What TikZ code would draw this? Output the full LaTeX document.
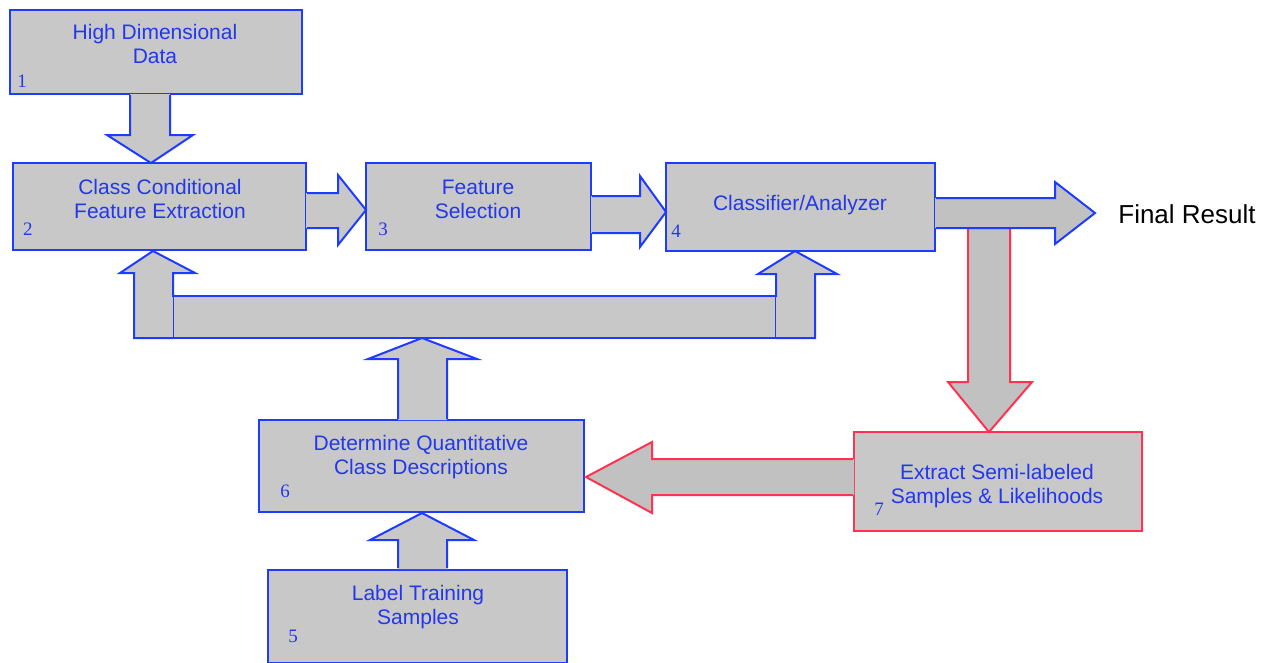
\documentclass[tikz,border=0pt]{standalone}
\usepackage{fontspec}
\setmainfont{Liberation Sans}
\newfontfamily\numfont{Liberation Serif}
\definecolor{bblue}{RGB}{30,60,255}
\definecolor{tblue}{RGB}{35,55,235}
\definecolor{rred}{RGB}{255,50,80}
\definecolor{boxgray}{RGB}{200,200,200}
\definecolor{arrgray}{RGB}{192,193,192}
\begin{document}
\begin{tikzpicture}[x=1pt,y=-1pt,
  blk/.style={draw=bblue,line width=2pt,fill=boxgray,minimum width=#1,inner sep=0pt},
  txt/.style={text=tblue,font=\fontsize{21}{24}\selectfont,align=center,inner sep=0pt},
  num/.style={text=tblue,font=\numfont\fontsize{19}{22}\selectfont,inner sep=0pt},
  bline/.style={draw=bblue,line width=2pt,line join=miter},
  rline/.style={draw=rred,line width=2pt,line join=miter}]
\useasboundingbox (0,0) rectangle (1265,662);
% boxes
\node[blk=292pt,minimum height=84pt] (b1) at (156,52) {};
\node[blk=293pt,minimum height=87pt] (b2) at (159.5,206.5) {};
\node[blk=225pt,minimum height=87pt] (b3) at (478.5,206.5) {};
\node[blk=269pt,minimum height=88pt] (b4) at (800.5,207) {};
\node[blk=325pt,minimum height=92pt] (b6) at (421.5,466) {};
\node[blk=299pt,minimum height=93pt] (b5) at (417.5,616.5) {};
\node[blk=288pt,minimum height=99pt,draw=rred] (b7) at (998,481.5) {};
% arrow 1 -> 2
\fill[boxgray] (130,94) -- (130,135) -- (107,135) -- (151,163) -- (193,135) -- (170,135) -- (170,94) -- cycle;
\path[bline] (130,95) -- (130,135) -- (107,135) -- (151,163) -- (193,135) -- (170,135) -- (170,95);
% arrow 2 -> 3
\fill[boxgray] (306,193) -- (338,193) -- (338,175) -- (366,210) -- (338,245) -- (338,228) -- (306,228) -- cycle;
\path[bline] (307,193) -- (338,193) -- (338,175) -- (366,210) -- (338,245) -- (338,228) -- (307,228);
% arrow 3 -> 4
\fill[boxgray] (591,196) -- (640,196) -- (640,176) -- (666,212) -- (640,247) -- (640,233) -- (591,233) -- cycle;
\path[bline] (592,196) -- (640,196) -- (640,176) -- (666,212) -- (640,247) -- (640,233) -- (592,233);
% red arrow 4 -> 7
\fill[arrgray] (968,226) -- (968,382) -- (948,382) -- (989,432) -- (1032,382) -- (1010,382) -- (1010,226) -- cycle;
\path[rline] (968,229) -- (968,382) -- (948,382) -- (989,432) -- (1032,382) -- (1010,382) -- (1010,229);
% final result arrow
\fill[arrgray] (935,198) -- (1055,198) -- (1055,182) -- (1095,213) -- (1055,244) -- (1055,228) -- (935,228) -- cycle;
\path[bline] (936,198) -- (1055,198) -- (1055,182) -- (1095,213) -- (1055,244) -- (1055,228) -- (936,228);
\node[font=\fontsize{26}{30}\selectfont,inner sep=0pt] (fr) at (1187,214) {Final Result};
% red arrow 7 -> 6
\fill[arrgray] (854,459) -- (652,459) -- (652,442) -- (586,477) -- (652,513) -- (652,495) -- (854,495) -- cycle;
\path[rline] (853,459) -- (652,459) -- (652,442) -- (586,477) -- (652,513) -- (652,495) -- (853,495);
% arrow 6 -> bar
\fill[boxgray] (398,420) -- (398,359) -- (368,359) -- (422,338) -- (477,359) -- (447,359) -- (447,420) -- cycle;
\path[bline] (398,419) -- (398,359) -- (368,359) -- (422,338) -- (477,359) -- (447,359) -- (447,419);
% arrow 5 -> 6
\fill[boxgray] (398,569) -- (398,540) -- (370,540) -- (422,513) -- (474,540) -- (447,540) -- (447,569) -- cycle;
\path[bline] (398,568) -- (398,540) -- (370,540) -- (422,513) -- (474,540) -- (447,540) -- (447,568);
% feedback arrows up to 2 and 4
\fill[boxgray] (134,338) -- (134,273) -- (120,273) -- (153,251) -- (195,273) -- (173,273) -- (173,338) -- cycle;
\path[bline] (173,338) -- (134,338) -- (134,273) -- (120,273) -- (153,251) -- (195,273) -- (173,273) -- (173,297);
\fill[boxgray] (776,338) -- (776,274) -- (758,274) -- (795,251) -- (837,274) -- (815,274) -- (815,338) -- cycle;
\path[bline] (776,297) -- (776,274) -- (758,274) -- (795,251) -- (837,274) -- (815,274) -- (815,338) -- (776,338);
% horizontal bar
\fill[boxgray] (173,296) rectangle (776,338);
\path[bline] (173,296) -- (776,296);
\path[bline] (173,338) -- (776,338);
\draw[bblue,line width=0.6pt] (173.5,296) -- (173.5,338);
\draw[bblue,line width=0.6pt] (775.5,296) -- (775.5,338);
% texts
\node[txt] (t1) at (155,44) {High Dimensional\\Data};
\node[txt] (t2) at (160,198.5) {Class Conditional\\Feature Extraction};
\node[txt] (t3) at (478,199) {Feature\\Selection};
\node[txt] (t4) at (800,205) {Classifier/Analyzer};
\node[txt] (t6) at (421,457) {Determine Quantitative\\Class Descriptions};
\node[txt] (t5) at (418,607) {Label Training\\Samples};
\node[txt] (t7) at (997,486) {Extract Semi-labeled\\Samples \& Likelihoods};
\node[num] (n1) at (22,81) {1};
\node[num] (n2) at (28,229) {2};
\node[num] (n3) at (383,229) {3};
\node[num] (n4) at (676,231) {4};
\node[num] (n6) at (285,491) {6};
\node[num] (n5) at (293,636) {5};
\node[num] (n7) at (879,509) {7};
\end{tikzpicture}
\end{document}
